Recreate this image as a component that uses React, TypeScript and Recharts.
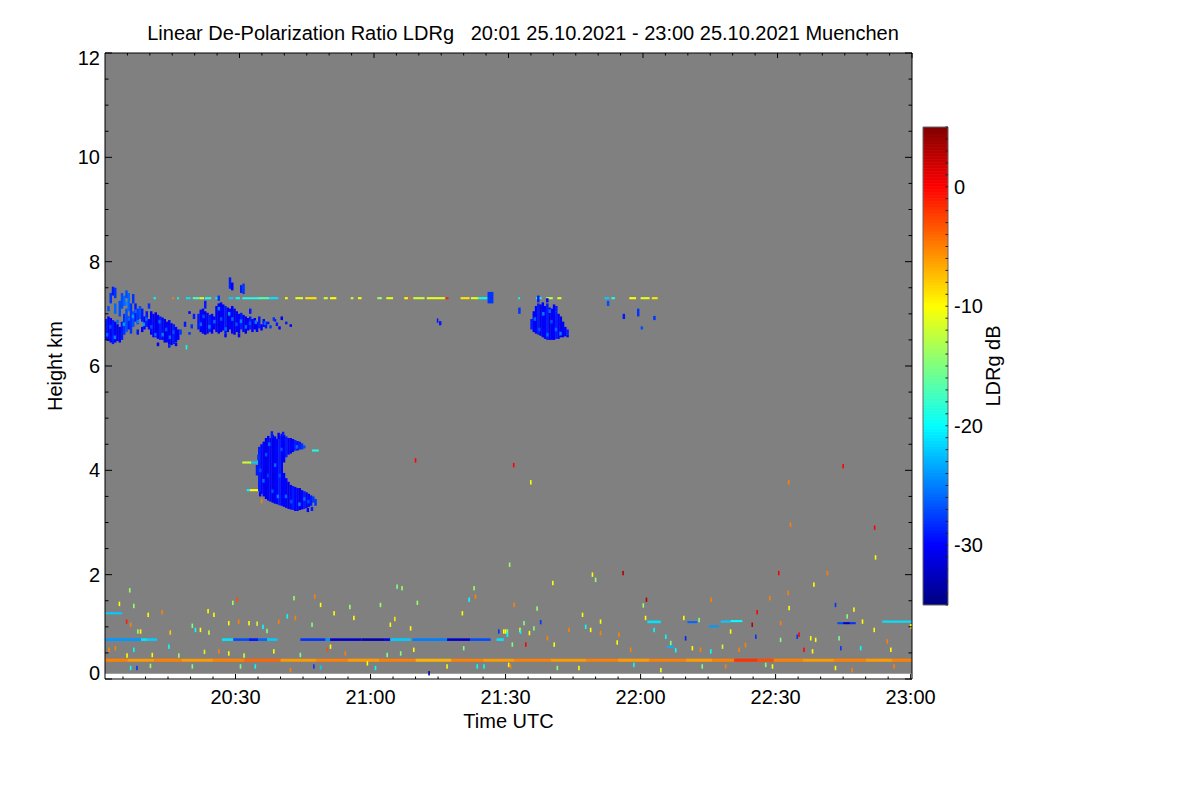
import React from "react";
import { ComposedChart, XAxis, YAxis, ReferenceArea, Scatter, Label } from "recharts";

const FONT = '"Liberation Sans", Arial, Helvetica, sans-serif';

// time is minutes after 20:00 UTC, heights in km, LDR in dB
const T_START = 1;
const T_END = 180.3;
const H_MAX = 12;
const LDR_MIN = -35;
const LDR_MAX = 5;

const timeTicks = [5, 10, 15, 20, 25, 30, 35, 40, 45, 50, 55, 60, 65, 70, 75, 80, 85, 90, 95, 100, 105, 110, 115, 120, 125, 130, 135, 140, 145, 150, 155, 160, 165, 170, 175, 180];
const timeMajor = [30, 60, 90, 120, 150, 180];
const timeLabels = ["20:30", "21:00", "21:30", "22:00", "22:30", "23:00"];
const heightTicks = [0, 0.5, 1, 1.5, 2, 2.5, 3, 3.5, 4, 4.5, 5, 5.5, 6, 6.5, 7, 7.5, 8, 8.5, 9, 9.5, 10, 10.5, 11, 11.5, 12];
const heightMajor = [0, 2, 4, 6, 8, 10, 12];
const ldrTicks = [-35, -34, -33, -32, -31, -30, -29, -28, -27, -26, -25, -24, -23, -22, -21, -20, -19, -18, -17, -16, -15, -14, -13, -12, -11, -10, -9, -8, -7, -6, -5, -4, -3, -2, -1, 0, 1, 2, 3, 4, 5];
const ldrMajor = [-30, -20, -10, 0];

// cloud columns: [time, base km, top km, LDR dB], 30 s wide
const cirrusWest = [
  [1.0, 6.5, 6.9, -29], [1.5, 6.48, 6.95, -30], [1.5, 7.05, 7.15, -27], [2.0, 6.45, 6.92, -30], [2.5, 6.42, 6.88, -29], [2.5, 7.35, 7.52, -29],
  [3.0, 6.45, 6.85, -30], [3.0, 7.0, 7.2, -26], [3.0, 7.3, 7.5, -28], [3.5, 6.48, 6.8, -31], [4.0, 6.45, 6.75, -30], [4.0, 6.95, 7.25, -27],
  [4.5, 6.5, 6.85, -29], [4.5, 7.1, 7.4, -27], [5.0, 6.6, 7.0, -28], [5.0, 7.15, 7.35, -26], [5.5, 6.65, 7.1, -27], [6.0, 6.7, 6.95, -29],
  [6.0, 7.05, 7.4, -26], [6.5, 6.62, 7.2, -28], [7.0, 6.75, 7.05, -27], [7.5, 6.85, 7.2, -29], [8.0, 6.8, 7.1, -28], [8.5, 6.9, 7.15, -27],
  [9.0, 6.65, 6.75, -30], [9.0, 6.85, 7.1, -29], [9.5, 6.7, 6.95, -30], [10.0, 6.75, 7.05, -29], [10.5, 6.7, 6.9, -30], [10.5, 7.1, 7.2, -28],
  [11.0, 6.6, 7.05, -30], [11.5, 6.55, 7.0, -30], [12.0, 6.55, 7.03, -31], [12.5, 6.52, 6.98, -30], [13.0, 6.5, 6.95, -29], [13.5, 6.5, 6.93, -30],
  [14.0, 6.45, 6.9, -31], [14.5, 6.45, 6.85, -30], [15.0, 6.42, 6.88, -30], [15.5, 6.4, 6.82, -31], [16.0, 6.42, 6.8, -29], [16.5, 6.45, 6.75, -30],
  [17.0, 6.5, 6.7, -30], [17.5, 6.6, 6.7, -28], [18.5, 6.75, 6.85, -29], [19.5, 6.6, 6.65, -28], [19.5, 7.0, 7.05, -30], [20.5, 6.9, 7.0, -29],
  [21.5, 6.7, 7.0, -29], [22.0, 6.65, 7.08, -30], [22.5, 6.62, 7.1, -30], [23.0, 6.6, 7.05, -31], [23.5, 6.62, 7.02, -30], [24.0, 6.65, 6.98, -29],
  [24.5, 6.62, 7.0, -30], [25.0, 6.7, 6.95, -30], [25.5, 6.65, 7.15, -30], [26.0, 6.62, 7.2, -31], [26.5, 6.65, 7.22, -30], [27.0, 6.68, 7.18, -30],
  [27.5, 6.62, 7.15, -29], [28.0, 6.65, 7.12, -31], [28.5, 6.7, 7.1, -30], [28.5, 7.48, 7.7, -29], [29.0, 6.62, 7.15, -30], [29.0, 7.45, 7.6, -30],
  [29.5, 6.6, 7.1, -31], [30.0, 6.65, 7.05, -30], [30.5, 6.62, 7.0, -30], [31.0, 6.7, 7.02, -29], [31.0, 7.4, 7.55, -29], [31.5, 6.65, 6.98, -30],
  [31.5, 7.38, 7.58, -28], [32.0, 6.62, 6.95, -31], [32.5, 6.68, 6.92, -30], [33.0, 6.7, 6.95, -29], [33.5, 6.65, 6.9, -30], [34.0, 6.7, 6.92, -31],
  [34.5, 6.65, 6.85, -30], [35.0, 6.72, 6.95, -29], [35.5, 6.68, 6.8, -30], [36.0, 6.75, 6.9, -30], [37.0, 6.8, 6.85, -29], [37.5, 6.72, 6.78, -28],
  [40.0, 6.88, 6.95, -30], [41.0, 6.8, 6.85, -29], [42.0, 6.75, 6.8, -30],
  [2.0, 7.2, 7.4, -28], [5.5, 7.3, 7.45, -27], [7.0, 7.2, 7.38, -28], [8.0, 6.6, 6.7, -29], [12.5, 6.38, 6.45, -30], [15.0, 6.35, 6.42, -29],
  [16.5, 6.38, 6.44, -30], [20.0, 6.72, 6.8, -28], [23.0, 7.1, 7.25, -29], [26.0, 7.25, 7.35, -28], [27.5, 6.55, 6.62, -30], [30.5, 6.55, 6.62, -30],
  [33.0, 7.0, 7.1, -29], [36.5, 6.72, 6.85, -29], [38.5, 6.85, 6.9, -29], [39.5, 6.7, 6.76, -30],
];

const cirrusEast = [
  [95.5, 6.7, 6.9, -29], [96.0, 6.65, 7.05, -30], [96.5, 6.62, 7.15, -30], [97.0, 6.6, 7.2, -29], [97.5, 6.58, 7.18, -31], [98.0, 6.55, 7.22, -30],
  [98.5, 6.52, 7.15, -30], [99.0, 6.5, 7.2, -29], [99.5, 6.5, 7.12, -31], [100.0, 6.5, 7.1, -30], [100.5, 6.5, 7.18, -30], [101.0, 6.52, 7.05, -29],
  [101.5, 6.52, 7.0, -30], [102.0, 6.55, 6.95, -31], [102.5, 6.55, 6.85, -30], [103.0, 6.57, 6.75, -30], [103.5, 6.6, 6.7, -29],
  [97.0, 7.22, 7.35, -29], [99.0, 7.22, 7.3, -30], [101.0, 7.05, 7.15, -29], [103.5, 6.55, 6.6, -30],
  [75.2, 6.78, 6.86, -29], [92.8, 7.0, 7.12, -28], [112.5, 7.15, 7.25, -27], [116.0, 6.9, 7.0, -29], [119.2, 6.95, 7.1, -28], [120.0, 6.7, 6.76, -27], [122.8, 6.88, 6.96, -28],
];

const midCloud = [
  [35.0, 3.6, 4.45, -29], [35.5, 3.55, 4.5, -30], [36.0, 3.5, 4.55, -30], [36.5, 3.45, 4.62, -31], [37.0, 3.42, 4.66, -30], [37.5, 3.4, 4.62, -30],
  [38.0, 3.38, 4.68, -31], [38.5, 3.36, 4.65, -30], [39.0, 3.35, 4.6, -30], [39.5, 3.33, 4.66, -29], [40.0, 3.32, 4.7, -30],
  [40.5, 3.3, 3.95, -30], [40.5, 4.15, 4.68, -30], [41.0, 3.28, 3.85, -30], [41.0, 4.25, 4.65, -29], [41.5, 3.26, 3.78, -31], [41.5, 4.3, 4.62, -30],
  [42.0, 3.25, 3.72, -30], [42.0, 4.32, 4.62, -30], [42.5, 3.24, 3.7, -29], [42.5, 4.35, 4.6, -30], [43.0, 3.22, 3.68, -30], [43.0, 4.38, 4.58, -29],
  [43.5, 3.22, 3.66, -30], [43.5, 4.38, 4.56, -30], [44.0, 3.24, 3.66, -31], [44.0, 4.4, 4.55, -29], [44.5, 3.25, 3.62, -30], [44.5, 4.4, 4.52, -28],
  [45.0, 3.26, 3.6, -29], [45.0, 4.42, 4.48, -27], [45.5, 3.28, 3.58, -30], [46.0, 3.3, 3.55, -30], [46.5, 3.32, 3.52, -29], [47.0, 3.38, 3.5, -28],
  [37.8, 4.62, 4.75, -29], [39.3, 4.6, 4.72, -30], [40.3, 4.65, 4.74, -29], [35.2, 3.5, 3.6, -30], [46.7, 3.22, 3.3, -29], [47.5, 3.32, 3.45, -28],
  [45.8, 3.2, 3.28, -30], [34.5, 3.9, 4.1, -29], [34.8, 4.2, 4.3, -28],
];

// lighter gates inside the clouds: [time, height km, LDR dB]
const cloudTexture = [
  [1.5, 6.6, -26], [2.2, 6.75, -27], [3.2, 6.55, -25], [3.8, 6.85, -26], [5.2, 6.8, -24], [5.8, 7.2, -25], [6.3, 6.9, -26], [7.2, 6.95, -24],
  [7.8, 7.05, -26], [8.3, 6.85, -25], [9.6, 6.8, -24], [10.2, 6.9, -26], [11.3, 6.75, -27], [12.2, 6.6, -26], [13.1, 6.85, -26], [13.8, 6.6, -25],
  [14.6, 6.7, -27], [15.4, 6.55, -26], [16.2, 6.65, -27], [22.3, 6.8, -26], [22.9, 6.95, -27], [24.2, 6.75, -25], [25.3, 6.85, -26], [26.3, 7.1, -25],
  [26.8, 6.9, -27], [27.8, 6.71, -26], [28.6, 7.0, -24], [29.3, 6.9, -26], [30.2, 6.8, -27], [31.2, 6.86, -25], [32.3, 6.75, -26], [33.2, 6.82, -27],
  [34.5, 6.84, -25], [36.5, 6.82, -26], [38.5, 6.9, -28], [39.2, 6.8, -29],
  [35.5, 4.0, -27], [36.2, 3.8, -26], [36.8, 4.3, -27], [37.5, 4.5, -26], [38.2, 3.6, -27], [38.8, 4.1, -26], [39.4, 3.5, -25], [40.2, 4.4, -27],
  [41.2, 3.5, -26], [42.4, 3.4, -27], [43.6, 4.45, -26], [44.2, 3.35, -25], [45.3, 3.45, -26], [46.2, 3.4, -27], [37.2, 3.9, -28], [39.8, 3.9, -27],
  [96.5, 6.9, -26], [97.5, 6.7, -27], [98.4, 7.0, -25], [99.3, 6.6, -26], [100.2, 6.85, -27], [101.2, 6.7, -26], [102.2, 6.62, -25], [99.8, 7.05, -26],
];

// residual layer near 7.3 km: [start, end, LDR dB]
const layer73 = [
  [11.8, 12.3, -20], [15.9, 16.3, -5], [17, 17.4, -20], [19, 20, -21], [20.5, 22, -17], [22, 23, -12], [23.2, 24.6, -19], [25.5, 26.2, -21],
  [28.5, 29.5, -22], [30, 31, -20], [31.5, 35, -19], [35, 37.5, -17], [37.5, 39.5, -21], [41, 41.6, -10], [43.3, 45, -11], [45.5, 48, -9],
  [49.6, 50.5, -12], [51, 52.4, -10], [55.6, 56.2, -12], [57.2, 58, -10], [61.5, 62.5, -14], [63.5, 65, -11], [67.5, 68.3, -10], [68.6, 69, -4],
  [69.5, 72, -12], [72.5, 76.5, -11], [76.8, 77.3, -1], [80, 82, -9], [82.3, 84, -11], [84, 86, -20], [92.8, 93.2, -20], [96.8, 98, -20],
  [99, 100.5, -13], [101.5, 102.4, -11], [112, 113, -22], [113.5, 114.3, -19], [117.5, 119, -10], [120, 122, -11], [122.5, 123.8, -9],
];
const layer73Base = 7.28;
const layer73Top = 7.32;

// [start, end, base km, top km, LDR dB]
const lowLayers = [
  [86, 87.3, 7.2, 7.42, -28],
  [31.5, 33.5, 4.13, 4.17, -12], [33.5, 35.5, 4.13, 4.17, -22], [32.5, 33.2, 3.6, 3.64, -20], [33.2, 35.3, 3.6, 3.64, -10], [35.3, 36, 3.6, 3.64, -21], [47, 48.5, 4.36, 4.4, -19],
  [1, 4.8, 1.24, 1.28, -22],
  [1, 9, 0.73, 0.78, -24], [9, 10.5, 0.73, 0.78, -21], [10.5, 12.6, 0.73, 0.78, -22],
  [27, 29.5, 0.73, 0.78, -21], [29.5, 33, 0.73, 0.78, -27], [33, 35, 0.73, 0.78, -29], [35, 37, 0.73, 0.78, -26], [37, 39.3, 0.73, 0.78, -22],
  [44.4, 50, 0.73, 0.78, -28], [50, 51, 0.73, 0.78, -24], [51, 58, 0.73, 0.78, -32], [58, 63, 0.73, 0.78, -33], [63, 64.4, 0.73, 0.78, -31],
  [64.4, 68.9, 0.73, 0.78, -22], [69.3, 77, 0.73, 0.78, -25], [77, 82.2, 0.73, 0.78, -32], [82.2, 86.7, 0.73, 0.78, -27], [88, 89.6, 0.73, 0.78, -21],
  [121.5, 124.5, 1.07, 1.12, -21], [130.4, 132.6, 1.07, 1.11, -26], [135.2, 137.4, 0.99, 1.03, -24], [137.8, 140, 1.08, 1.12, -22], [140, 142.6, 1.09, 1.13, -20],
  [163.7, 165, 1.05, 1.09, -27], [165, 166.5, 1.05, 1.09, -32], [166.5, 167.8, 1.05, 1.09, -28], [173.7, 180.7, 1.08, 1.12, -21], [125.9, 127.4, 0.6, 0.64, -23],
];

// aerosol top near 0.35 km: [start, end, LDR dB]
const aerosolLayer = [
  [1, 6, -5], [6, 12, -6], [12, 18, -5], [18, 25, -6], [25, 32, -5], [32, 40, -4], [40, 48, -6], [48, 55, -5], [55, 62, -6], [62, 70, -5],
  [70, 78, -7], [78, 85, -5], [85, 92, -6], [92, 100, -5], [100, 108, -6], [108, 115, -5], [115, 122, -6], [122, 130, -5], [130, 136, -6],
  [136, 140.8, -5], [140.8, 146, -2], [146, 149.6, -3], [149.6, 156, -5], [156, 163, -6], [163, 170, -5], [170, 176, -6], [176, 181, -5],
];
const aerosolBase = 0.33;
const aerosolTop = 0.39;

// single-gate specks: [time, height km, LDR dB]
const specks = [
  [6.5, 1.7, -14], [4.2, 1.44, -10], [7.4, 1.4, -14], [10.6, 1.23, -10], [13.7, 1.28, -5], [6.7, 1.04, -5], [5.8, 1.1, -1], [8.9, 0.91, -10],
  [8.3, 0.91, -14], [15.5, 0.89, -8], [20.4, 1.02, -15], [21.1, 0.94, -20], [22.2, 0.94, -10], [23.9, 1.3, -10], [24.1, 0.89, -12], [25.2, 1.23, -10],
  [28.5, 1.07, -10], [29.4, 1.46, -14], [30.4, 1.52, -3], [30.7, 1.1, -5], [33.0, 1.07, -10], [34.8, 1.06, -12], [36.1, 1.0, -20], [37.0, 0.92, -15],
  [39.6, 1.1, -5], [41.5, 1.2, -20], [43.0, 1.55, -14], [43.3, 1.17, -5], [47.6, 1.58, -5], [47.0, 1.04, -15], [48.9, 1.42, -10], [51.9, 1.26, -10],
  [55.4, 1.38, -14], [56.3, 1.17, -10], [62.2, 1.42, -14], [64.4, 1.04, -10], [65.4, 1.15, -9], [65.9, 1.77, -15], [67.0, 1.74, -14], [70.4, 1.46, -14],
  [68.9, 0.97, -10], [80.4, 1.26, -10], [81.9, 1.52, -20], [83.0, 1.74, -14], [83.3, 1.58, -5], [88.5, 0.91, -28], [90.0, 0.91, -10], [90.4, 0.91, -15],
  [93.2, 0.94, -10], [1.9, 0.56, -5], [3.3, 0.59, -5], [5.9, 0.45, -10], [7.4, 0.56, -20], [6.7, 0.21, -20], [8.1, 0.21, -28], [11.1, 0.25, -14],
  [11.5, 0.46, -10], [15.2, 0.62, -20], [17.4, 0.45, -14], [20.4, 0.24, -15], [23.1, 0.52, -12], [26.3, 0.53, -5], [28.5, 0.49, -10], [31.1, 0.24, -15],
  [31.9, 0.45, -12], [34.4, 0.24, -20], [38.5, 0.53, -10], [42.2, 0.17, -5], [44.4, 0.46, -15], [47.4, 0.24, -28], [48.9, 0.22, -22], [50.4, 0.56, -3],
  [51.1, 0.62, -10], [54.4, 0.49, -5], [59.3, 0.3, -10], [61.1, 0.21, -20], [63.7, 0.46, -15], [66.7, 0.49, -15], [69.6, 0.56, -10], [73.0, 0.11, -33],
  [77.0, 0.24, -10], [80.7, 0.59, -15], [83.7, 0.24, -20], [85.2, 0.24, -20], [90.7, 0.27, -10],
  [109.3, 2.0, -10], [110.0, 1.9, -14], [100.5, 1.84, -10], [116.1, 2.03, 3], [91.9, 1.42, -5], [97.0, 1.35, -14], [94.1, 1.07, -15], [97.8, 1.09, -28],
  [89.6, 0.91, -10], [90.4, 0.85, -20], [93.3, 0.91, -20], [95.3, 0.88, -10], [96.3, 0.97, -15], [99.3, 0.78, -5], [91.5, 0.66, -15], [94.5, 0.66, 0],
  [100.8, 0.66, -10], [104.1, 0.94, -5], [107.1, 1.23, -10], [107.8, 1.0, -20], [108.9, 0.94, -10], [111.1, 1.1, -10], [111.1, 0.88, -5], [115.2, 0.85, -5],
  [114.8, 0.7, -10], [117.8, 0.56, -5], [120.6, 1.41, -14], [121.3, 1.52, 3], [121.1, 1.17, -10], [123.0, 0.94, -20], [125.6, 0.81, -20], [126.7, 0.69, -15],
  [127.8, 0.55, -20], [129.6, 1.17, -10], [130.0, 0.78, -29], [131.5, 0.59, -10], [133.0, 1.13, -15], [133.3, 0.56, -5], [135.7, 1.52, -5], [135.6, 0.53, -20],
  [138.2, 0.62, -12], [140.0, 0.91, -10], [141.9, 0.56, -5], [143.3, 0.65, -5], [144.8, 1.04, 3], [145.9, 1.28, 0], [145.6, 0.81, -28], [148.7, 1.55, -5],
  [150.7, 2.03, 0], [152.8, 1.65, -5], [153.0, 1.36, -10], [151.1, 1.07, -5], [151.1, 0.75, -15], [154.8, 0.81, -28], [155.2, 0.85, 0], [157.8, 0.78, -10],
  [158.9, 0.75, -10], [156.3, 0.56, 0], [158.2, 0.53, -10], [158.5, 1.81, -10], [161.5, 2.03, -5], [163.3, 1.42, -28], [165.9, 1.2, -15], [167.4, 1.33, -10],
  [169.3, 1.1, -10], [164.1, 0.78, -15], [164.5, 0.59, -28], [168.9, 0.59, -20], [171.9, 0.94, -10], [174.8, 0.72, -5], [175.6, 0.56, -10], [180.0, 1.01, -10],
  [91.1, 0.24, -5], [101.5, 0.21, -15], [106.3, 0.21, -10], [118.5, 0.27, -20], [124.5, 0.17, -10], [133.7, 0.24, -15], [138.9, 0.24, -5], [147.8, 0.27, -15],
  [149.3, 0.24, -10], [163.3, 0.21, -10], [167.0, 0.17, -5], [176.3, 0.24, -5],
  [70.0, 4.19, 0], [91.8, 4.1, 0], [95.6, 3.77, -10], [165.0, 4.08, 0], [152.9, 3.77, -5], [153.3, 2.96, -5], [172.0, 2.9, 0], [172.2, 2.33, -10],
  [90.9, 2.19, -14], [35.8, 3.41, -5], [19.1, 6.36, -20], [74.9, 6.87, -29],
];

const COL_DT = 0.5;
const BAR_STEP = 0.25;

const jet = (v: number) => {
  const f = Math.min(1, Math.max(0, (v - LDR_MIN) / (LDR_MAX - LDR_MIN)));
  const ch = (c: number) => Math.round(255 * Math.min(1, Math.max(0, 1.5 - Math.abs(4 * f - c))));
  return `rgb(${ch(3)},${ch(2)},${ch(1)})`;
};

// colour-scale slices for the colour bar
const barSlices: number[] = [];
for (let v = LDR_MIN; v < LDR_MAX; v += BAR_STEP) barSlices.push(v);

const speckData = specks.map(([t, h, v]) => ({ t, h, v }));
const textureData = cloudTexture.map(([t, h, v]) => ({ t, h, v }));

const txt = { fontSize: 20, fontFamily: FONT, fill: "#000" };

const BottomTick = (props: any) => {
  const { x, y, payload } = props;
  const i = timeMajor.indexOf(payload.value);
  return (
    <g>
      <line x1={x} y1={y} x2={x} y2={y - (i >= 0 ? 5 : 2.5)} stroke="#000" />
      {i >= 0 && (
        <text x={x} y={y + 25} textAnchor="middle" {...txt}>
          {timeLabels[i]}
        </text>
      )}
    </g>
  );
};

const TopTick = (props: any) => {
  const { x, y, payload } = props;
  const major = timeMajor.includes(payload.value);
  return <line x1={x} y1={y} x2={x} y2={y + (major ? 5 : 2.5)} stroke="#000" />;
};

const LeftTick = (props: any) => {
  const { x, y, payload } = props;
  const v = payload.value;
  const major = heightMajor.includes(v);
  const dy = v === H_MAX ? 5 : v === 0 ? -6 : 0;
  return (
    <g>
      <line x1={x} y1={y} x2={x + (major ? 7 : 3.5)} y2={y} stroke="#000" />
      {major && (
        <text x={x - 5} y={y + 7 + dy} textAnchor="end" {...txt}>
          {v}
        </text>
      )}
    </g>
  );
};

const RightTick = (props: any) => {
  const { x, y, payload } = props;
  const major = heightMajor.includes(payload.value);
  return <line x1={x} y1={y} x2={x - (major ? 7 : 3.5)} y2={y} stroke="#000" />;
};

const BarTick = (props: any) => {
  const { x, y, payload } = props;
  const major = ldrMajor.includes(payload.value);
  return (
    <g>
      <line x1={x} y1={y} x2={x - 2.5} y2={y} stroke="#222" />
      {major && (
        <text x={x + 6} y={y + 7} textAnchor="start" {...txt}>
          {payload.value}
        </text>
      )}
    </g>
  );
};

const SpeckShape = (props: any) => {
  const { cx, cy, payload } = props;
  return <rect x={cx - 0.8} y={cy - 2.2} width={1.6} height={4.4} fill={jet(payload.v)} />;
};

const GateShape = (props: any) => {
  const { cx, cy, payload } = props;
  return <rect x={cx - 1.2} y={cy - 1.8} width={2.4} height={3.6} fill={jet(payload.v)} />;
};

export default function App() {
  return (
    <div style={{ position: "absolute", left: 0, top: 0, width: 1200, height: 800, background: "#fff" }}>
      <div
        style={{
          position: "absolute",
          left: 0,
          top: 22,
          width: 1046,
          textAlign: "center",
          whiteSpace: "pre",
          fontFamily: FONT,
          fontSize: 20,
          lineHeight: "23px",
          color: "#000",
        }}
      >
        {"Linear De-Polarization Ratio LDRg   20:01 25.10.2021 - 23:00 25.10.2021 Muenchen"}
      </div>

      <div style={{ position: "absolute", left: 0, top: 0 }}>
        <ComposedChart width={1200} height={800} data={speckData} margin={{ top: 43, right: 278, bottom: 37, left: 5 }}>
          <XAxis
            dataKey="t"
            type="number"
            domain={[T_START, T_END]}
            allowDataOverflow
            ticks={timeTicks}
            interval={0}
            tick={<BottomTick />}
            tickLine={false}
            tickSize={0}
            tickMargin={0}
            height={84}
            axisLine={{ stroke: "#000" }}
          >
            <Label value="Time UTC" position="center" {...txt} />
          </XAxis>
          <XAxis
            xAxisId="top"
            orientation="top"
            type="number"
            domain={[T_START, T_END]}
            allowDataOverflow
            ticks={timeTicks}
            interval={0}
            tick={<TopTick />}
            tickLine={false}
            tickSize={0}
            tickMargin={0}
            height={10}
            axisLine={{ stroke: "#000" }}
          />
          <YAxis
            dataKey="h"
            type="number"
            domain={[0, H_MAX]}
            allowDataOverflow
            ticks={heightTicks}
            interval={0}
            tick={<LeftTick />}
            tickLine={false}
            tickSize={0}
            tickMargin={0}
            width={100}
            axisLine={{ stroke: "#000" }}
          >
            <Label value="Height km" angle={-90} position="center" {...txt} />
          </YAxis>
          <YAxis
            yAxisId="right"
            orientation="right"
            type="number"
            domain={[0, H_MAX]}
            allowDataOverflow
            ticks={heightTicks}
            interval={0}
            tick={<RightTick />}
            tickLine={false}
            tickSize={0}
            tickMargin={0}
            width={10}
            axisLine={{ stroke: "#000" }}
          />

          <ReferenceArea x1={T_START} x2={T_END} y1={0.1} y2={H_MAX} fill="#808080" fillOpacity={1} stroke="none" ifOverflow="hidden" />

          {aerosolLayer.map(([t0, t1, v], i) => (
            <ReferenceArea key={`a${i}`} x1={t0} x2={t1} y1={aerosolBase} y2={aerosolTop} fill={jet(v)} fillOpacity={1} stroke="none" ifOverflow="hidden" />
          ))}
          {layer73.map(([t0, t1, v], i) => (
            <ReferenceArea key={`r${i}`} x1={t0} x2={t1} y1={layer73Base} y2={layer73Top} fill={jet(v)} fillOpacity={1} stroke="none" ifOverflow="hidden" />
          ))}
          {lowLayers.map(([t0, t1, h0, h1, v], i) => (
            <ReferenceArea key={`l${i}`} x1={t0} x2={t1} y1={h0} y2={h1} fill={jet(v)} fillOpacity={1} stroke="none" ifOverflow="hidden" />
          ))}
          {[...cirrusWest, ...cirrusEast, ...midCloud].map(([t, h0, h1, v], i) => (
            <ReferenceArea key={`c${i}`} x1={t} x2={t + COL_DT + 0.05} y1={h0} y2={h1} fill={jet(v)} fillOpacity={1} stroke="none" ifOverflow="hidden" />
          ))}

          <Scatter data={textureData} dataKey="h" shape={GateShape} isAnimationActive={false} />
          <Scatter data={speckData} dataKey="h" shape={SpeckShape} isAnimationActive={false} />
        </ComposedChart>
      </div>

      <div style={{ position: "absolute", left: 880, top: 0 }}>
        <ComposedChart width={200} height={800} data={ldrTicks.map((v) => ({ x: 0.5, v }))} margin={{ top: 127, right: 42, bottom: 195, left: 43 }}>
          <XAxis dataKey="x" type="number" domain={[0, 1]} allowDataOverflow height={0} tick={false} tickLine={false} axisLine={false} />
          <YAxis
            dataKey="v"
            orientation="right"
            type="number"
            domain={[LDR_MIN, LDR_MAX]}
            allowDataOverflow
            ticks={ldrTicks}
            interval={0}
            tick={<BarTick />}
            tickLine={false}
            tickSize={0}
            tickMargin={0}
            axisLine={false}
            width={90}
          >
            <Label value="LDRg dB" angle={-90} position="center" {...txt} />
          </YAxis>
          {barSlices.map((v) => (
            <ReferenceArea key={`b${v}`} x1={0} x2={1} y1={v} y2={v + BAR_STEP + 0.05} fill={jet(v + BAR_STEP / 2)} fillOpacity={1} stroke="none" ifOverflow="hidden" />
          ))}
          <ReferenceArea x1={0} x2={1} y1={LDR_MIN} y2={LDR_MAX} fill="none" stroke="#666" strokeWidth={1} ifOverflow="visible" />
        </ComposedChart>
      </div>
    </div>
  );
}
